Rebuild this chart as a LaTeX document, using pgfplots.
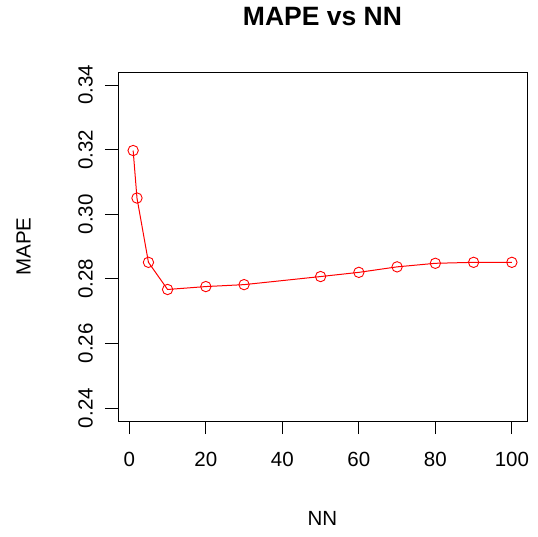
\documentclass[border=0pt]{standalone}
\usepackage{fontspec}
\setmainfont{Liberation Sans}
\usepackage{pgfplots}
\pgfplotsset{compat=1.18}
\begin{document}
\begin{tikzpicture}[x=1pt,y=1pt]
\path[use as bounding box] (0,0) rectangle (538,536);
\begin{axis}[
  at={(118pt,115pt)}, anchor=south west,
  width=409pt, height=349pt, scale only axis,
  xmin=-2.96, xmax=103.96, ymin=0.236, ymax=0.344,
  xtick={0,20,40,60,80,100},
  ytick={0.24,0.26,0.28,0.30,0.32,0.34},
  yticklabel style={/pgf/number format/fixed, /pgf/number format/precision=2, /pgf/number format/fixed zerofill},
  /pgf/number format/assume math mode=true,
  tick align=outside, xtick pos=left, ytick pos=left,
  major tick length=13pt,
  tick style={black, line width=0.8pt},
  axis line style={black, line width=0.8pt},
  ticklabel style={font=\fontsize{20.5}{24}\selectfont, inner sep=0pt},
  xticklabel style={anchor=north, yshift=-18pt},
  yticklabel style={rotate=90, anchor=south, yshift=12pt},
  title={MAPE vs NN},
  title style={at={(axis description cs:0.5,1)}, anchor=center, yshift=49pt, font=\bfseries\fontsize{26.5}{30}\selectfont},
  xlabel={NN},
  xlabel style={at={(axis description cs:0.5,0)}, anchor=center, yshift=-97pt, font=\fontsize{20.5}{24}\selectfont},
  ylabel={MAPE},
  ylabel style={at={(axis description cs:0,0.5)}, anchor=center, yshift=94.5pt, font=\fontsize{20.5}{24}\selectfont},
]
\addplot[red, line width=1pt, mark=o, mark size=5.2pt, mark options={line width=0.9pt}] coordinates {
  (1,0.3197) (2,0.3050) (5,0.2851) (10,0.2767) (20,0.2776) (30,0.2782)
  (50,0.2807) (60,0.2820) (70,0.2837) (80,0.2848) (90,0.2851) (100,0.2851)
};
\end{axis}
\end{tikzpicture}
\end{document}
